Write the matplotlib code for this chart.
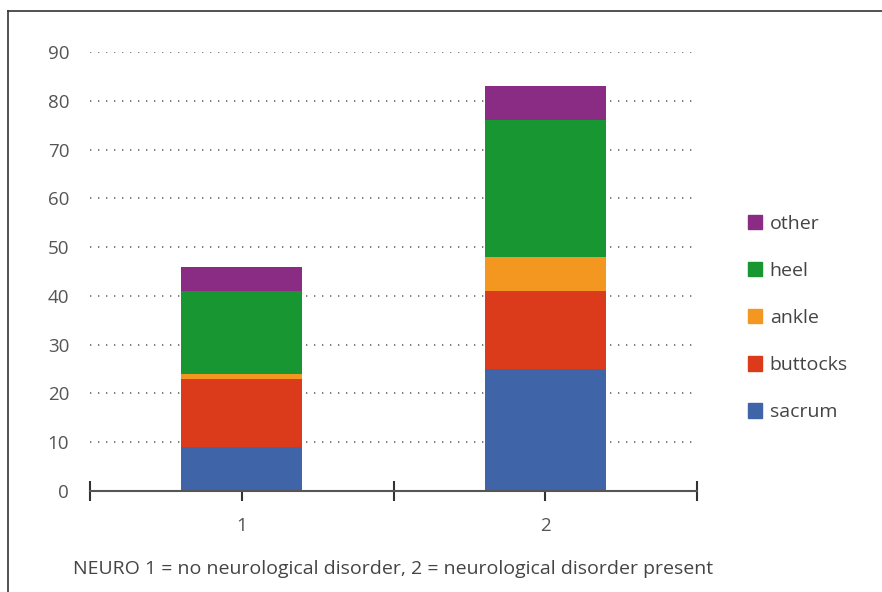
import matplotlib.pyplot as plt
from matplotlib.lines import Line2D
from matplotlib.patches import Patch
import numpy as np

plt.rcParams['font.family'] = ['Open Sans', 'DejaVu Sans']

# data
groups = ['1', '2']
sites = ['sacrum', 'buttocks', 'ankle', 'heel', 'other']
sacrum = [9, 25]
buttocks = [14, 16]
ankle = [1, 7]
heel = [17, 28]
other = [5, 7]
colors = ['#4064a8', '#db3b1a', '#f39720', '#179632', '#8b2c84']
caption = 'NEURO 1 = no neurological disorder, 2 = neurological disorder present'

fig = plt.figure(figsize=(8.82, 5.92), dpi=100)
ax = fig.add_axes([90/882, 1 - 491/592, (697 - 90)/882, (491 - 52)/592])

x = np.arange(len(groups)) + 0.5
bottom = np.zeros(len(groups))
for vals, col in zip([sacrum, buttocks, ankle, heel, other], colors):
    ax.bar(x, vals, width=0.4, bottom=bottom, color=col, zorder=3)
    bottom += np.array(vals)

ax.set_xlim(0, len(groups))
ax.set_ylim(0, 90)

# dotted grid lines
for y in range(10, 91, 10):
    ax.axhline(y, color='#666666', linestyle=(0, (0.8, 4.0)), linewidth=1.2, zorder=1)

for s in ['top', 'right', 'left']:
    ax.spines[s].set_visible(False)
ax.spines['bottom'].set_color('#555555')
ax.spines['bottom'].set_linewidth(1.5)
ax.spines['bottom'].set_zorder(4)

ax.set_yticks(range(0, 91, 10))
ax.tick_params(axis='y', length=0, pad=15, labelsize=13.5, labelcolor='#555555')
ax.set_xticks([0, 0.5, 1, 1.5, 2])
ax.set_xticklabels(['', '1', '', '2', ''])
ax.tick_params(axis='x', direction='inout', length=15, width=1.5, color='#333333',
               pad=11, labelsize=13.5, labelcolor='#555555')

# legend, top entry first
handles = [Patch(color=c, label=s) for s, c in zip(sites, colors)][::-1]
leg = fig.legend(handles=handles, loc='center left', bbox_to_anchor=(730/882, 1 - 318/592),
                 frameon=False, fontsize=14, handlelength=0.75, handleheight=0.75,
                 handletextpad=0.4, labelspacing=1.5)
for t in leg.get_texts():
    t.set_color('#444444')

fig.text(73/882, 1 - 569/592, caption, fontsize=14, color='#444444', va='center')

# frame lines at the top and left
fig.add_artist(Line2D([8/882, 8/882], [0, 1 - 11/592], transform=fig.transFigure,
                      color='#333333', linewidth=1.2))
fig.add_artist(Line2D([8/882, 1], [1 - 11/592, 1 - 11/592], transform=fig.transFigure,
                      color='#333333', linewidth=1.2))

fig.savefig('out.png', dpi=100)
